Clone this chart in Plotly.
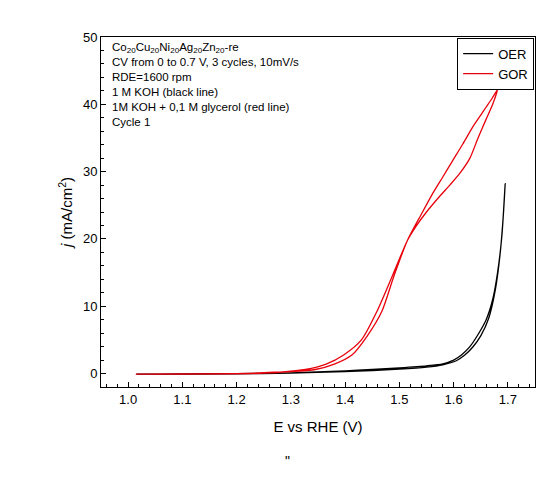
import plotly.graph_objects as go

# OER loop (1 M KOH), forward then return branch
oer_x = [1.015, 1.1, 1.2, 1.3, 1.4, 1.45, 1.5, 1.55, 1.58, 1.6, 1.615, 1.63, 1.645, 1.66, 1.672, 1.681, 1.689, 1.695,
         1.692, 1.686, 1.677, 1.665, 1.65, 1.635, 1.62, 1.605, 1.58, 1.55, 1.5, 1.45, 1.4, 1.3, 1.2, 1.015]
oer_y = [-0.1, -0.05, 0.0, 0.1, 0.4, 0.6, 0.85, 1.15, 1.45, 2.0, 2.8, 4.0, 5.8, 8.0, 11.0, 15.0, 20.5, 28.2,
         24.0, 18.0, 12.5, 8.3, 5.6, 3.9, 2.7, 1.9, 1.3, 0.95, 0.65, 0.45, 0.3, 0.05, -0.05, -0.1]

# GOR loop (1 M KOH + 0.1 M glycerol)
gor_x = [1.015, 1.2, 1.3, 1.345, 1.38, 1.413, 1.44, 1.468, 1.49, 1.515, 1.54, 1.561, 1.58, 1.598, 1.617,
         1.635, 1.65, 1.66, 1.671, 1.681,
         1.672, 1.66, 1.645, 1.63, 1.612, 1.593, 1.574, 1.55, 1.53, 1.515, 1.487, 1.459, 1.43, 1.398,
         1.365, 1.327, 1.25, 1.015]
gor_y = [-0.1, 0.0, 0.3, 0.6, 1.4, 2.8, 5.5, 9.3, 14.5, 19.8, 23.6, 26.7, 29.2, 31.6, 34.1,
         36.6, 38.4, 39.6, 40.9, 42.2,
         40.0, 37.8, 35.0, 32.0, 29.8, 28.0, 26.3, 24.0, 21.8, 19.8, 14.5, 9.3, 5.0, 2.8,
         1.4, 0.6, 0.05, -0.1]

fig = go.Figure()
fig.add_trace(go.Scatter(x=oer_x, y=oer_y, mode="lines", name="OER",
                         line=dict(color="black", width=1.3, shape="spline", smoothing=0.7)))
fig.add_trace(go.Scatter(x=gor_x, y=gor_y, mode="lines", name="GOR",
                         line=dict(color="#e8000b", width=1.3, shape="spline", smoothing=0.7)))

info = ("Co<sub>20</sub>Cu<sub>20</sub>Ni<sub>20</sub>Ag<sub>20</sub>Zn<sub>20</sub>-re<br>"
        "CV from 0 to 0.7 V, 3 cycles, 10mV/s<br>"
        "RDE=1600 rpm<br>"
        "1 M KOH (black line)<br>"
        "1M KOH + 0,1 M glycerol (red line)<br>"
        "Cycle 1")
fig.add_annotation(x=0.02, y=0.995, xref="paper", yref="paper", text=info,
                   showarrow=False, xanchor="left", yanchor="top", align="left",
                   font=dict(size=11.5, color="black"))
fig.add_annotation(x=0.43, y=-0.24, xref="paper", yref="paper", text='"',
                   showarrow=False, font=dict(size=14, color="black"))

axis = dict(showline=True, linecolor="black", linewidth=1, mirror=True,
            ticks="inside", ticklen=5, tickcolor="black", showgrid=False,
            zeroline=False, tickfont=dict(size=13, color="black"),
            minor=dict(ticks="inside", ticklen=3, tickcolor="black"))
fig.update_xaxes(range=[0.95, 1.75], dtick=0.1, tickformat=".1f",
                 title=dict(text="E vs RHE (V)", font=dict(size=15, color="black")), **axis)
fig.update_yaxes(range=[-2, 50], dtick=10,
                 title=dict(text="<i>j</i> (mA/cm<sup>2</sup>)", font=dict(size=15, color="black"),
                            standoff=6), **axis)

fig.update_layout(
    width=556, height=490, margin=dict(l=93, r=29, t=29, b=111),
    plot_bgcolor="white", paper_bgcolor="white",
    font=dict(family="Arial, Liberation Sans, sans-serif"),
    legend=dict(x=0.998, y=0.998, xanchor="right", yanchor="top",
                bordercolor="black", borderwidth=1, bgcolor="white", itemwidth=30,
                font=dict(size=13, color="black"), tracegroupgap=0),
)

fig.write_html("out.html")
